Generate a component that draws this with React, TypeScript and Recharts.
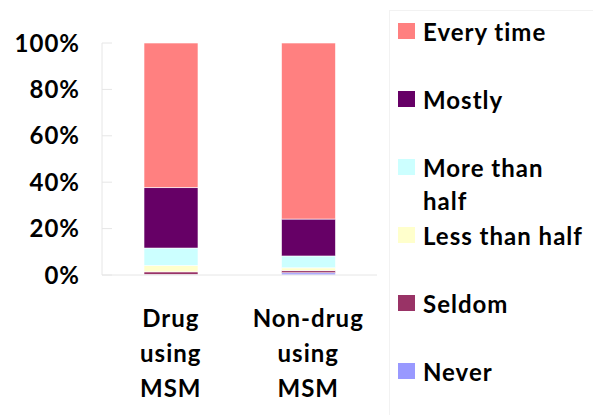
import React from 'react';
import { BarChart, Bar, XAxis, YAxis } from 'recharts';

const categories = ['Drug using MSM', 'Non-drug using MSM'];

// stacked from the bottom up
const never = [0.2, 1.0];
const seldom = [1.2, 0.9];
const lessThanHalf = [2.7, 1.2];
const moreThanHalf = [7.5, 5.1];
const mostly = [26.1, 15.9];
const everyTime = [62.3, 75.9];

const yTicks = [0, 0.2, 0.4, 0.6, 0.8, 1];

const series = [
  { key: 'never', name: 'Never', values: never, color: '#9999FF' },
  { key: 'seldom', name: 'Seldom', values: seldom, color: '#993366' },
  { key: 'less', name: 'Less than half', values: lessThanHalf, color: '#FFFFCC' },
  { key: 'more', name: 'More than half', values: moreThanHalf, color: '#CCFFFF' },
  { key: 'mostly', name: 'Mostly', values: mostly, color: '#660066' },
  { key: 'every', name: 'Every time', values: everyTime, color: '#FF8080' },
];

const data = categories.map((name, i) => {
  const row: any = { name };
  series.forEach((s) => {
    row[s.key] = s.values[i];
  });
  return row;
});

const FONT = 'Lato, "DejaVu Sans", sans-serif';
const AXIS = '#e6e6e6';

const YTick = (props: any) => {
  const { x, y, payload } = props;
  return (
    <g>
      <line x1={x + 22} y1={y} x2={x + 32} y2={y} stroke={AXIS} />
      <text x={x} y={y} dy="0.36em" textAnchor="end" fontFamily={FONT} fontWeight={700} fontSize={24} letterSpacing={1} fill="#000">
        {Math.round(payload.value * 100) + '%'}
      </text>
    </g>
  );
};

const XTick = (props: any) => {
  const { x, y, payload } = props;
  const lines = String(payload.value).split(' ');
  return (
    <text x={x} y={y + 52} textAnchor="middle" fontFamily={FONT} fontWeight={700} fontSize={24} letterSpacing={1} fill="#000">
      {lines.map((l, i) => (
        <tspan key={i} x={x} dy={i === 0 ? 0 : 35}>
          {l}
        </tspan>
      ))}
    </text>
  );
};

const LegendBox = () => {
  const items = [...series].reverse();
  return (
    <div
      style={{
        position: 'absolute',
        left: 389,
        top: 10,
        width: 204,
        height: 405,
        borderLeft: '1px solid #f2f2f2',
        borderTop: '1px solid #f2f2f2',
        paddingTop: 4,
        boxSizing: 'border-box',
      }}
    >
      {items.map((it) => (
        <div key={it.key} style={{ display: 'flex', alignItems: 'flex-start', height: 68 }}>
          <div style={{ width: 17, height: 16, background: it.color, marginLeft: 8, marginTop: 8, flex: 'none' }} />
          <div
            style={{
              marginLeft: 8,
              width: 172,
              fontFamily: FONT,
              fontWeight: 700,
              fontSize: 24,
              letterSpacing: 1,
              lineHeight: '33px',
              color: '#000',
            }}
          >
            {it.name}
          </div>
        </div>
      ))}
    </div>
  );
};

export default function App() {
  return (
    <div style={{ width: 593, height: 415, background: '#fff', position: 'relative' }}>
      <style>{'body{margin:0}'}</style>
      <BarChart
        width={593}
        height={415}
        data={data}
        stackOffset="expand"
        margin={{ top: 43, right: 216, left: 0, bottom: 0 }}
        barSize={54}
      >
        <XAxis
          dataKey="name"
          height={140}
          stroke={AXIS}
          tickLine={false}
          tickSize={0}
          tickMargin={0}
          tick={<XTick />}
          interval={0}
        />
        <YAxis
          width={102}
          domain={[0, 1]}
          ticks={yTicks}
          stroke={AXIS}
          tickLine={false}
          tickSize={0}
          tickMargin={22}
          tick={<YTick />}
          interval={0}
        />
        {series.map((s) => (
          <Bar
            key={s.key}
            dataKey={s.key}
            name={s.name}
            stackId="a"
            fill={s.color}
            stroke="#ffffff"
            strokeWidth={0.6}
            isAnimationActive={false}
          />
        ))}
      </BarChart>
      <LegendBox />
    </div>
  );
}
